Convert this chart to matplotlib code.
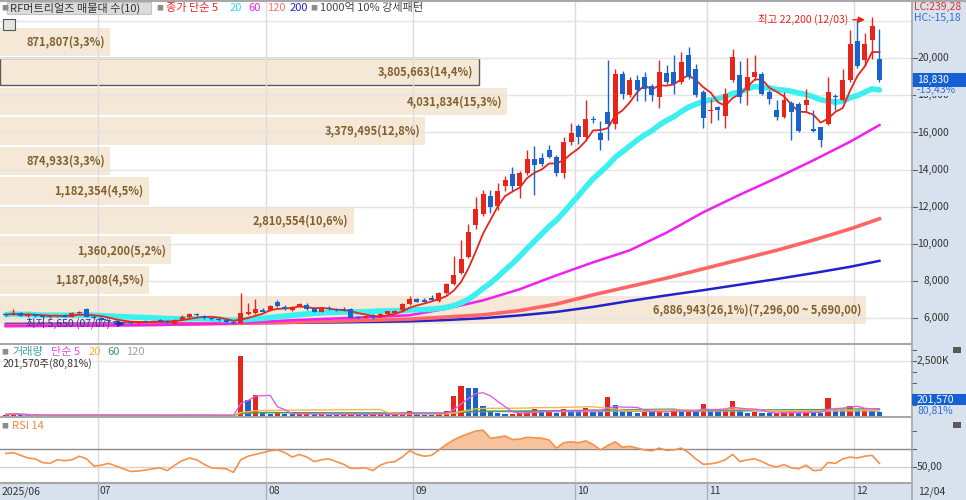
import numpy as np
import pandas as pd
import matplotlib
matplotlib.use('Agg')
import matplotlib.pyplot as plt
from matplotlib.patches import Rectangle
from matplotlib.lines import Line2D

plt.rcParams['font.family'] = ['Noto Sans CJK KR', 'DejaVu Sans']

W, H = 966, 500

# 월 구분 (각 월 첫 거래일 인덱스)
month_labels = ['2025/06', '07', '08', '09', '10', '11', '12']
month_start = [0, 13, 36, 56, 78, 96, 116]
last_label = '12/04'
hi_date = '12/03'
lo_date = '07/07'

# 일봉 (시가, 고가, 저가, 종가)
opens = [6200, 6180, 6260, 6130, 6200, 6100, 6050, 6120, 6150, 6080, 6250, 6480, 6080,
         6000, 5900, 5850, 5800, 5750, 5720, 5820, 5800, 5850, 5830,
         5700, 5900, 6050, 6200, 6120, 5990, 5940, 5880, 5790, 5750, 6200, 6250, 6450,
         6430, 6865, 6610, 6430, 6610, 6685, 6560, 6325, 6560, 6500, 6450, 6500, 6070, 6020, 6150, 6070, 6200, 6250, 6430, 6740,
         7045, 6990, 7100, 6900, 7350, 7855, 8400, 9300, 11000, 11620, 12600, 12050, 13100, 13770, 13100, 13800, 14550, 14600, 15040, 14700, 13800, 15470,
         16370, 15750, 16740, 15960, 17100, 16470, 19170, 18000, 18850, 18990, 18490, 17890, 19230, 19260, 18720, 20160, 19440, 18180,
         17150, 17350, 16900, 18810, 19080, 18270, 19000, 19170, 18180, 17190, 16830, 17590, 17550, 17460, 16200, 16280, 16470, 17950, 17730, 18810,
         20920, 19930, 21000, 19950]
highs = [6280, 6500, 6300, 6250, 6230, 6180, 6150, 6180, 6200, 6350, 6400, 6520, 6150,
         6050, 5950, 5900, 5850, 5800, 5850, 5900, 5880, 5950, 5900,
         5920, 6150, 6250, 6250, 6150, 6020, 5980, 5920, 5820, 7370, 6830, 7040, 6550,
         6700, 6950, 6700, 6650, 6800, 6830, 6600, 6600, 6620, 6560, 6600, 6520, 6100, 6150, 6200, 6250, 6380, 6420, 6800, 7200,
         7100, 7100, 7250, 7400, 7900, 9350, 10200, 11080, 12500, 12900, 12900, 13300, 13650, 14120, 13900, 15080, 15250, 14900, 15300, 14800, 15750, 16510,
         16450, 17730, 16900, 16620, 19890, 19450, 19300, 19000, 19120, 19260, 18600, 19930, 19660, 20160, 20350, 20600, 19700, 18270,
         17800, 17450, 18410, 20510, 19880, 20000, 20160, 19250, 18300, 17730, 18180, 17700, 17640, 18370, 17190, 16300, 19000, 18100, 19450, 21500,
         22050, 21350, 22200, 21600]
lows = [6120, 6150, 6100, 6080, 6050, 6000, 6000, 6050, 6050, 6050, 6200, 6050, 5950,
        5850, 5800, 5750, 5700, 5650, 5700, 5780, 5760, 5800, 5740,
        5660, 5880, 6000, 6120, 5950, 5900, 5850, 5750, 5690, 5730, 6150, 6200, 6300,
        6400, 6600, 6450, 6400, 6580, 6450, 6300, 6300, 6450, 6400, 6380, 6000, 5950, 5980, 5950, 6050, 6150, 6200, 6400, 6700,
        6850, 6850, 6950, 6850, 7300, 7800, 8350, 9250, 10800, 11500, 11650, 11830, 12850, 12850, 12480, 13700, 12650, 14200, 14600, 13650, 13550, 15350,
        15400, 15600, 16500, 15080, 15570, 16200, 17820, 17900, 17720, 17720, 17720, 17330, 18600, 18090, 18600, 18900, 17900, 16230,
        16500, 16650, 16230, 18700, 17580, 17500, 18850, 18000, 17550, 16700, 16800, 15620, 16030, 17100, 16030, 15200, 16400, 17200, 17700, 18700,
        19500, 19600, 19940, 18700]
closes = [6180, 6260, 6130, 6200, 6100, 6050, 6120, 6150, 6080, 6250, 6300, 6080, 6000,
          5900, 5850, 5800, 5750, 5720, 5820, 5800, 5850, 5830, 5760,
          5900, 6070, 6200, 6150, 5980, 5920, 5870, 5780, 5710, 6290, 6350, 6470, 6330,
          6650, 6650, 6470, 6610, 6740, 6470, 6325, 6560, 6470, 6420, 6400, 6020, 5985, 6120, 6040, 6230, 6360, 6380, 6740, 7045,
          6865, 6865, 6960, 7350, 7855, 8330, 9190, 10610, 11890, 12700, 12000, 12830, 13430, 13100, 13800, 14550, 14270, 14320, 14700, 13810, 15470, 15950,
          15750, 16740, 16650, 15570, 16470, 19170, 18090, 18850, 18270, 18360, 18000, 19260, 18720, 18630, 19800, 18990, 18000, 16800,
          17190, 17190, 18050, 20070, 17910, 18990, 19260, 18090, 17820, 16830, 17730, 17100, 16100, 17770, 16100, 15600, 18180, 17900, 18810, 20780,
          19570, 20760, 21750, 18830]

# 거래량 (주)
volume = [90e3, 140e3, 60e3, 50e3, 55e3, 45e3, 50e3, 60e3, 45e3, 70e3, 55e3, 80e3, 50e3,
          45e3, 40e3, 50e3, 45e3, 60e3, 45e3, 40e3, 50e3, 45e3, 40e3,
          70e3, 60e3, 55e3, 40e3, 45e3, 35e3, 40e3, 45e3, 50e3, 2730e3, 760e3, 985e3, 160e3,
          130e3, 150e3, 110e3, 100e3, 110e3, 120e3, 100e3, 110e3, 90e3, 80e3, 90e3, 120e3, 95e3, 90e3, 100e3, 110e3, 95e3, 120e3, 130e3, 230e3,
          110e3, 90e3, 80e3, 180e3, 260e3, 925e3, 1380e3, 1300e3, 1290e3, 455e3, 230e3, 150e3, 110e3, 120e3, 180e3, 200e3, 350e3, 230e3, 250e3, 150e3, 350e3, 230e3,
          200e3, 395e3, 270e3, 200e3, 880e3, 500e3, 270e3, 250e3, 150e3, 250e3, 200e3, 270e3, 150e3, 350e3, 230e3, 250e3, 240e3, 580e3,
          270e3, 250e3, 350e3, 680e3, 300e3, 150e3, 200e3, 150e3, 140e3, 150e3, 200e3, 230e3, 150e3, 200e3, 190e3, 180e3, 850e3, 350e3, 300e3, 455e3,
          350e3, 380e3, 249440, 201570]

# RSI 14
rsi = [65, 66, 63, 60, 59, 55, 54, 58, 57, 58, 62, 59, 51,
       52, 54, 51, 48, 45, 45.5, 46.5, 48, 49, 46,
       52, 57, 60, 58, 53, 49, 48.5, 48, 44, 58, 62, 64, 66,
       68, 69, 66, 61, 64, 61, 56, 58, 59, 56, 53, 48.5, 48.5, 49, 46, 52, 55, 56, 61, 68,
       64, 62, 63, 69, 75, 80, 84, 87, 90, 91, 82, 83, 84.5, 80.5, 81, 83, 82.5, 82, 80, 71, 77, 78,
       77, 79, 75, 69, 74, 78, 72, 73, 71, 69, 68, 71, 68.5, 69, 71, 66, 59, 53,
       53.5, 55, 58, 64, 56, 58, 59, 56, 52, 50, 52.6, 49, 48, 52, 46, 46.5, 55, 54, 59, 61,
       60, 62, 63, 54]

# 장기 이동평균
ma_idx = [0, 10, 20, 30, 40, 50, 55, 60, 65, 70, 75, 80, 85, 90, 95, 100, 105, 110, 115, 119]
ma60 = [5560, 5580, 5620, 5700, 5900, 6050, 6150, 6500, 6950, 7550, 8300, 9000, 9650, 10600, 11700, 12650, 13550, 14500, 15500, 16400]
ma120 = [5600, 5620, 5650, 5700, 5780, 5880, 5940, 6050, 6170, 6400, 6750, 7250, 7700, 8150, 8650, 9150, 9650, 10200, 10800, 11350]
ma200 = [5680, 5690, 5700, 5710, 5740, 5790, 5820, 5890, 5990, 6140, 6330, 6600, 6920, 7220, 7500, 7800, 8100, 8420, 8760, 9080]

# 매물대 (아래에서 위로)
band_low, band_high = 5690, 21750
band_vol = [6886943, 1187008, 1360200, 2810554, 1182354, 874933, 3379495, 4031834, 3805663, 871807]
band_pct = ['26,1', '4,5', '5,2', '10,6', '4,5', '3,3', '12,8', '15,3', '14,4', '3,3']

RED = '#e8251b'
BLUE = '#1a62cc'
STRIP = '#d8e2ee'


def fx(px):
    return px / W


def fy(py):
    return 1 - py / H


def comma(v, nd=2):
    return f"{v:.{nd}f}".replace('.', ',')


fig = plt.figure(figsize=(W / 100, H / 100), dpi=100)
fig.patch.set_facecolor('white')

# 오른쪽, 아래쪽 축 영역 배경
fig.patches.append(Rectangle((fx(911), 0), 1 - fx(911), 1, transform=fig.transFigure,
                             facecolor=STRIP, edgecolor='none', zorder=-1))
fig.patches.append(Rectangle((0, 0), 1, 18 / H, transform=fig.transFigure,
                             facecolor=STRIP, edgecolor='none', zorder=-1))

ax = fig.add_axes([0, fy(343), fx(911), 342 / H])
axv = fig.add_axes([0, fy(417), fx(911), 73 / H])
axr = fig.add_axes([0, fy(482), fx(911), 65 / H])

n = len(closes)
x = np.arange(n)
o = np.array(opens, float)
hi = np.array(highs, float)
lo = np.array(lows, float)
c = np.array(closes, float)
vol = np.array(volume, float)
rs = np.array(rsi, float)

for a in (ax, axv, axr):
    a.set_xlim(-0.8, 123.3)
    a.set_xticks([])
    a.set_yticks([])
    for s in a.spines.values():
        s.set_visible(False)
    for m in month_start[1:]:
        a.axvline(m - 0.5, color='#dcdcdc', lw=1, zorder=0.5)

ax.set_ylim(4652, 23089)
axv.set_ylim(-22e3, 3266e3)
axr.set_ylim(33.3, 105.6)

# 가격 격자
for p in range(6000, 22001, 2000):
    ax.axhline(p, color='#e4e4e4', lw=1, zorder=0.5)

# 매물대
ytf = ax.get_yaxis_transform()
edges = np.linspace(band_low, band_high, len(band_vol) + 1)
step = edges[1] - edges[0]
vmax = max(band_vol)
cur_band = int(np.searchsorted(edges, c[-1]) - 1)
for k, v in enumerate(band_vol):
    w = v / vmax * 0.951
    ec = '#5a5a5a' if k == cur_band else 'none'
    ax.add_patch(Rectangle((0, edges[k]), w, step * 0.93, transform=ytf,
                           facecolor='#f5e8d7', edgecolor=ec, lw=1, zorder=0.2))
    lab = f"{v:,}({band_pct[k]}%)"
    if k == 0:
        lab += f"({int(edges[1]):,},00 ~ {int(edges[0]):,},00)"
    ax.text(w - 5 / 911, edges[k] + step * 0.46, lab, transform=ytf, ha='right', va='center',
            fontsize=8, fontweight='bold', color='#80602c', zorder=1)

# 이동평균
ma5 = pd.Series(c).rolling(5, min_periods=1).mean()
ma20 = pd.Series(c).rolling(20, min_periods=1).mean()
ax.plot(ma_idx, ma200, color='#2222cc', lw=1.8, zorder=2)
ax.plot(ma_idx, ma120, color='#ff6565', lw=2.6, zorder=2)
ax.plot(ma_idx, ma60, color='#f21ff2', lw=1.8, zorder=2)
ax.plot(x, ma20, color='#3cf0f0', lw=4, zorder=2.2, solid_capstyle='round')
ax.plot(x, ma5, color=RED, lw=1.3, zorder=2.4)

# 캔들
up = c >= o
col = np.where(up, RED, BLUE)
ax.vlines(x, lo, hi, colors=col, lw=1, zorder=3)
ax.bar(x, np.maximum(np.abs(c - o), 55), bottom=np.minimum(o, c), width=0.68,
       color=col, linewidth=0, zorder=4)

# 최고 / 최저 표시
ih = int(np.argmax(hi))
il = int(np.argmin(lo))
yh = hi[ih] - 120
ax.annotate('', xy=(ih - 0.6, yh), xytext=(ih - 3.0, yh),
            arrowprops=dict(arrowstyle='-|>', color=RED, lw=1, mutation_scale=9), zorder=5)
ax.text(ih - 3.3, yh, f"최고 {int(hi[ih]):,} ({hi_date})", ha='right', va='center',
        fontsize=7.5, color=RED, zorder=5)
yl = lo[il] + 40
ax.annotate('', xy=(il - 0.5, yl), xytext=(il - 2.6, yl),
            arrowprops=dict(arrowstyle='-|>', color='#2b2bb0', lw=1, mutation_scale=9), zorder=5)
ax.text(il - 2.8, yl, f"최저 {int(lo[il]):,} ({lo_date})", ha='right', va='center',
        fontsize=7.5, color='#2b2bb0', zorder=5)

# 가격축 라벨
for p in range(6000, 20001, 2000):
    ax.plot([1.0, 1.0066], [p, p], transform=ytf, clip_on=False, color='#606060', lw=0.8)
    ax.text(1.0418, p, f"{p:,}", transform=ytf, ha='right', va='center', fontsize=7.5,
            color='#333333', clip_on=False)
chg = (c[-1] / c[-2] - 1) * 100
ax.text(1.0066, c[-1] - 560, f"{comma(chg)}%", transform=ytf, ha='left', va='center', fontsize=7.5,
        color='#2f6fd6', clip_on=False, zorder=6,
        bbox=dict(boxstyle='square,pad=0.05', fc=STRIP, ec='none'))
ax.add_patch(Rectangle((1.001, c[-1] - 380), 0.06, 760, transform=ytf, clip_on=False,
                       facecolor='#1560d2', edgecolor='none', zorder=6))
ax.text(1.0066, c[-1], f"{int(c[-1]):,}", transform=ytf, ha='left', va='center', fontsize=7.5,
        color='white', clip_on=False, zorder=7)
hc = (c[-1] / hi[ih] - 1) * 100
fig.text(fx(914), fy(7), 'LC:239,28', fontsize=7.5, color='#e0302a', va='center')
fig.text(fx(914), fy(18), f"HC:{comma(hc)}", fontsize=7.5, color='#2f6fd6', va='center')

# 거래량
vcol = [RED] + [RED if vol[i] >= vol[i - 1] else BLUE for i in range(1, n)]
axv.axhline(2500e3, color='#e4e4e4', lw=1, zorder=0.5)
axv.bar(x, vol, width=0.72, color=vcol, linewidth=0, zorder=3)
vs = pd.Series(vol)
axv.plot(x, vs.rolling(120, min_periods=1).mean(), color='#a8a8a8', lw=1, zorder=4)
axv.plot(x, vs.rolling(60, min_periods=1).mean(), color='#3c9c5c', lw=1, zorder=4)
axv.plot(x, vs.rolling(20, min_periods=1).mean(), color='#f2b848', lw=1, zorder=4)
axv.plot(x, vs.rolling(5, min_periods=1).mean(), color='#e060e0', lw=1, zorder=4)
vtf = axv.get_yaxis_transform()
for t in np.arange(500e3, 3001e3, 500e3):
    axv.plot([1.0, 1.0055], [t, t], transform=vtf, clip_on=False, color='#606060', lw=0.8)
axv.text(1.0066, 2500e3, '2,500K', transform=vtf, ha='left', va='center', fontsize=7.5,
         color='#333333', clip_on=False)
vratio = vol[-1] / vol[-2] * 100
fig.patches.append(Rectangle((fx(912), fy(405)), fx(54), 11 / H, transform=fig.transFigure,
                             facecolor='#1560d2', edgecolor='none', zorder=5))
fig.text(fx(917), fy(400), f"{int(vol[-1]):,}", fontsize=7.5, color='white', va='center', zorder=6)
fig.text(fx(917), fy(411), f"{comma(vratio)}%", fontsize=7.5, color='#2f6fd6', va='center')

# RSI
axr.axhline(70, color='#8a8a8a', lw=1, zorder=0.6)
axr.axhline(50, color='#d2d2d2', lw=1, zorder=0.6)
axr.fill_between(x, rs, 70, where=rs > 70, interpolate=True, color='#f6c39e', lw=0, zorder=2)
axr.plot(x, rs, color='#f5924c', lw=1.2, zorder=3)
rtf = axr.get_yaxis_transform()
for t in (50, 70, 90):
    axr.plot([1.0, 1.0055], [t, t], transform=rtf, clip_on=False, color='#606060', lw=0.8)
axr.text(1.0066, 50, '50,00', transform=rtf, ha='left', va='center', fontsize=7.5,
         color='#333333', clip_on=False)

# 패널 구분선
def fline(xs, ys, color='#a8a8a8', lw=1.5):
    fig.add_artist(Line2D([fx(v) for v in xs], [fy(v) for v in ys], transform=fig.transFigure,
                          color=color, lw=lw))


fline([0, 966], [0.6, 0.6])
fline([0, 911], [343.5, 343.5])
fline([0, 911], [417, 417])
fline([0, 911], [482.5, 482.5])
fline([911.5, 911.5], [0, 500], lw=1.2)

# 날짜축
for lab, m in zip(month_labels, month_start):
    px = ax.transData.transform((m - 0.5, 0))[0] if m > 0 else 0
    if m > 0:
        fline([px, px], [482, 500], color='#a8b0bc', lw=1)
    fig.text(fx(px + 2), fy(491.5), lab, fontsize=7.5, color='#333333', va='center')
fig.text(fx(918), fy(491.5), last_label, fontsize=7.5, color='#333333', va='center')

# 상단 범례
fig.patches.append(Rectangle((fx(7), fy(14)), fx(144), 12 / H, transform=fig.transFigure,
                             facecolor='#dcdcdc', edgecolor='#c4c4c4', lw=0.8, zorder=1))
fig.text(fx(1), fy(8), '■', fontsize=5, color='#8c8c8c', va='center')
fig.text(fx(10), fy(8), 'RF머트리얼즈 매물대 수(10)', fontsize=8, color='#333333', va='center')
fig.text(fx(156), fy(8), '■', fontsize=5, color='#8c8c8c', va='center')
legend_items = [('종가 단순 5', '#f02424', 166), ('20', '#30e0e0', 230), ('60', '#f020f0', 248),
                ('120', '#ff7070', 267), ('200', '#2424e0', 290)]
for txt, colr, px in legend_items:
    fig.text(fx(px), fy(8), txt, fontsize=8, color=colr, va='center')
fig.text(fx(310), fy(8), '■', fontsize=5, color='#8c8c8c', va='center')
fig.text(fx(320), fy(8), '1000억 10% 강세패턴', fontsize=8, color='#444444', va='center')
fig.patches.append(Rectangle((fx(3), fy(30)), fx(12), 11 / H, transform=fig.transFigure,
                             facecolor='#e6e6e6', edgecolor='#555555', lw=0.8, zorder=1))

fig.text(fx(1), fy(352), '■', fontsize=5, color='#8c8c8c', va='center')
vol_items = [('거래량', '#3aa4a4', 12), ('단순 5', '#e050e0', 51), ('20', '#f0b040', 89),
             ('60', '#3c9c5c', 107), ('120', '#a0a0a0', 126)]
for txt, colr, px in vol_items:
    fig.text(fx(px), fy(352), txt, fontsize=8, color=colr, va='center')
fig.text(fx(3), fy(364), f"{int(vol[-1]):,}주({comma(vratio)}%)", fontsize=7.5, color='#333333',
         va='center')
fig.text(fx(1), fy(426), '■', fontsize=5, color='#8c8c8c', va='center')
fig.text(fx(12), fy(426), 'RSI 14', fontsize=8, color='#f08a40', va='center')

for py in (350, 425):
    fig.patches.append(Rectangle((fx(953), fy(py + 3)), fx(8), 6 / H, transform=fig.transFigure,
                                 facecolor='#5a5a5a', edgecolor='none', zorder=5))

fig.savefig('out.png', dpi=100)
